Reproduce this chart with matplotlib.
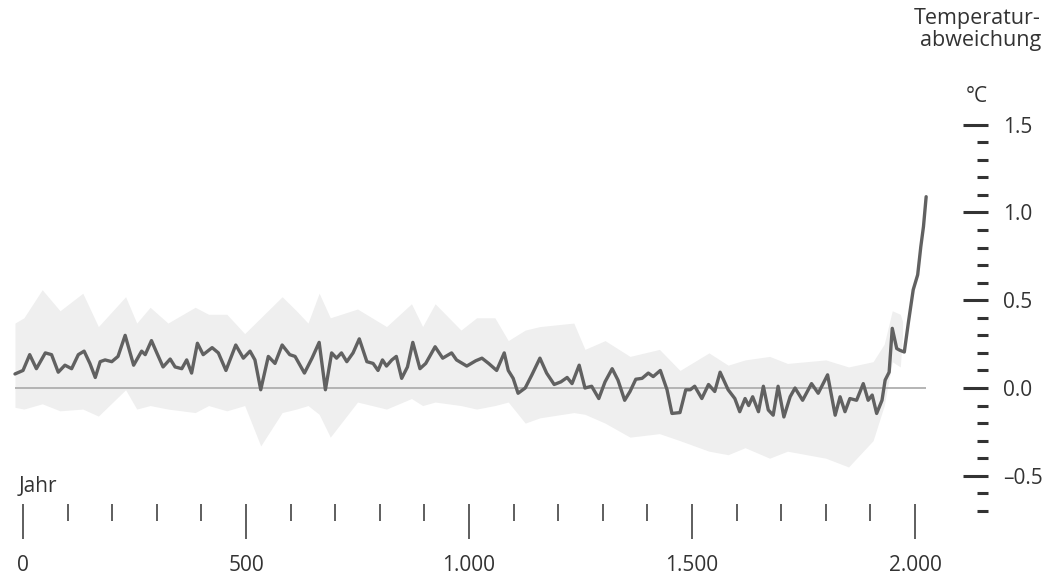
import matplotlib
matplotlib.use("Agg")
import matplotlib.pyplot as plt
from matplotlib.ticker import FixedLocator, FixedFormatter

plt.rcParams['font.family'] = ['Open Sans', 'DejaVu Sans']

# Temperaturabweichung (geglättet), Jahr -> °C
jahre = [-18, 0, 15, 30, 50, 64, 79, 94, 109, 124, 137, 150, 162, 173, 184, 199,
         213, 229, 248, 266, 274, 288, 300, 314, 330, 341, 356, 367, 378, 391, 404,
         424, 438, 455, 477, 494, 509, 520, 533, 550, 565, 581, 598, 610, 631, 648,
         664, 678, 692, 703, 714, 726, 740, 754, 771, 785, 796, 806, 815, 827, 837,
         849, 862, 874, 890, 903, 924, 941, 961, 972, 995, 1015, 1029, 1044, 1062,
         1079, 1088, 1099, 1110, 1126, 1141, 1159, 1174, 1191, 1206, 1220, 1231,
         1247, 1260, 1275, 1291, 1305, 1321, 1334, 1349, 1361, 1374, 1388, 1402,
         1413, 1429, 1444, 1455, 1473, 1486, 1496, 1506, 1522, 1537, 1551, 1563,
         1581, 1596, 1607, 1619, 1627, 1636, 1649, 1660, 1671, 1682, 1693, 1706,
         1720, 1731, 1748, 1768, 1783, 1804, 1821, 1832, 1843, 1854, 1869, 1884,
         1895, 1904, 1914, 1926, 1933, 1942, 1949, 1959, 1966, 1976, 1985, 1996,
         2006, 2013, 2019, 2025]
werte = [0.08, 0.10, 0.19, 0.11, 0.20, 0.19, 0.09, 0.13, 0.11, 0.19, 0.21, 0.14,
         0.06, 0.15, 0.16, 0.15, 0.18, 0.30, 0.13, 0.21, 0.19, 0.27, 0.20, 0.12,
         0.165, 0.12, 0.11, 0.16, 0.085, 0.255, 0.19, 0.23, 0.20, 0.10, 0.245,
         0.17, 0.21, 0.16, -0.01, 0.18, 0.14, 0.245, 0.19, 0.18, 0.085, 0.17, 0.26,
         -0.01, 0.20, 0.17, 0.20, 0.15, 0.20, 0.28, 0.15, 0.14, 0.10, 0.16, 0.125,
         0.16, 0.18, 0.055, 0.12, 0.26, 0.11, 0.14, 0.235, 0.17, 0.20, 0.16, 0.125,
         0.155, 0.17, 0.14, 0.10, 0.20, 0.10, 0.055, -0.03, 0.0, 0.075, 0.17, 0.085,
         0.02, 0.035, 0.06, 0.025, 0.13, 0.0, 0.01, -0.06, 0.035, 0.11, 0.045,
         -0.07, -0.02, 0.05, 0.055, 0.085, 0.065, 0.10, -0.01, -0.145, -0.14,
         -0.01, -0.01, 0.01, -0.06, 0.02, -0.02, 0.09, -0.01, -0.06, -0.135, -0.06,
         -0.10, -0.05, -0.135, 0.01, -0.125, -0.155, 0.01, -0.165, -0.05, 0.0,
         -0.07, 0.025, -0.03, 0.075, -0.155, -0.05, -0.135, -0.06, -0.07, 0.025,
         -0.07, -0.04, -0.145, -0.07, 0.045, 0.09, 0.34, 0.225, 0.215, 0.205, 0.37,
         0.56, 0.645, 0.805, 0.92, 1.09]

# Unsicherheitsbereich
band_jahre = [-18, 2, 43, 83, 134, 169, 230, 255, 285, 325, 386, 416, 457, 497,
              533, 581, 613, 639, 664, 689, 750, 815, 871, 896, 924, 982, 1017,
              1058, 1088, 1126, 1159, 1235, 1260, 1305, 1361, 1427, 1473, 1538,
              1581, 1619, 1674, 1714, 1800, 1851, 1906, 1931, 1949, 1967, 1972]
band_oben = [0.37, 0.40, 0.56, 0.44, 0.54, 0.35, 0.52, 0.37, 0.46, 0.37, 0.46,
             0.42, 0.42, 0.31, 0.40, 0.52, 0.44, 0.37, 0.54, 0.40, 0.45, 0.35,
             0.48, 0.35, 0.48, 0.33, 0.40, 0.40, 0.27, 0.33, 0.35, 0.37, 0.22,
             0.27, 0.18, 0.22, 0.10, 0.20, 0.13, 0.16, 0.18, 0.14, 0.16, 0.12,
             0.15, 0.25, 0.44, 0.42, 0.38]
band_unten = [-0.11, -0.12, -0.09, -0.13, -0.12, -0.16, -0.01, -0.12, -0.10,
              -0.12, -0.14, -0.10, -0.13, -0.10, -0.33, -0.14, -0.12, -0.10,
              -0.15, -0.28, -0.08, -0.12, -0.06, -0.10, -0.08, -0.10, -0.12,
              -0.10, -0.08, -0.20, -0.17, -0.14, -0.15, -0.20, -0.28, -0.26,
              -0.30, -0.36, -0.38, -0.34, -0.40, -0.36, -0.40, -0.45, -0.30,
              -0.10, 0.15, 0.12, 0.30]

x_major = [0, 500, 1000, 1500, 2000]
x_labels = ['0', '500', '1.000', '1.500', '2.000']
x_minor = list(range(0, 2001, 100))
y_major = [-0.5, 0.0, 0.5, 1.0, 1.5]
y_labels = ['–0.5', '0.0', '0.5', '1.0', '1.5']
y_minor = [-0.7, -0.6, -0.5, -0.4, -0.3, -0.2, -0.1, 0.0, 0.1, 0.2, 0.3, 0.4,
           0.5, 0.6, 0.7, 0.8, 0.9, 1.0, 1.1, 1.2, 1.3, 1.4, 1.5]

textfarbe = '#333333'
schrift = 15

fig = plt.figure(figsize=(10.48, 5.78), dpi=100)
ax = fig.add_axes([0, 0, 1, 1])
ax.set_xlim(-51.6, 2298.2)
ax.set_ylim(-1.0826, 2.2108)
ax.patch.set_alpha(0)

ax.fill_between(band_jahre, band_unten, band_oben, color='#efefef', lw=0, zorder=1)
ax.hlines(0, jahre[0], jahre[-1], color='#b4b4b4', lw=1.4, zorder=2)
ax.plot(jahre, werte, color='#616161', lw=2.4, solid_joinstyle='round',
        solid_capstyle='round', zorder=3)

# Achsen
for s in ['top', 'left']:
    ax.spines[s].set_visible(False)
ax.spines['bottom'].set_position(('axes', 0.128))
ax.spines['bottom'].set_visible(False)
ax.spines['right'].set_position(('axes', 0.9427))
ax.spines['right'].set_visible(False)

ax.xaxis.set_major_locator(FixedLocator(x_major))
ax.xaxis.set_major_formatter(FixedFormatter(x_labels))
ax.xaxis.set_minor_locator(FixedLocator(x_minor))
ax.tick_params(axis='x', which='major', direction='out', length=25, width=1.1,
               color=textfarbe, labelsize=schrift, labelcolor=textfarbe, pad=12)
ax.tick_params(axis='x', which='minor', direction='out', length=12, width=1.1,
               color=textfarbe)

ax.yaxis.tick_right()
ax.yaxis.set_major_locator(FixedLocator(y_major))
ax.yaxis.set_major_formatter(FixedFormatter(y_labels))
ax.yaxis.set_minor_locator(FixedLocator(y_minor))
ax.tick_params(axis='y', which='major', direction='in', length=18, width=2.2,
               color=textfarbe, labelsize=schrift, labelcolor=textfarbe, pad=11)
ax.tick_params(axis='y', which='minor', direction='in', length=8, width=2.2,
               color=textfarbe)

ax.text(19 / 1048, 1 - 487 / 578, 'Jahr', transform=ax.transAxes, ha='left',
        va='center', fontsize=schrift, color=textfarbe)
ax.text(988 / 1048, 1 - 97 / 578, '°C', transform=ax.transAxes, ha='right',
        va='center', fontsize=schrift, color=textfarbe)
ax.text(1041 / 1048, 1 - 8 / 578, 'Temperatur-\nabweichung', transform=ax.transAxes,
        ha='right', va='top', fontsize=schrift + 0.5, color=textfarbe, linespacing=1.05)

fig.savefig('out.png', dpi=100)
